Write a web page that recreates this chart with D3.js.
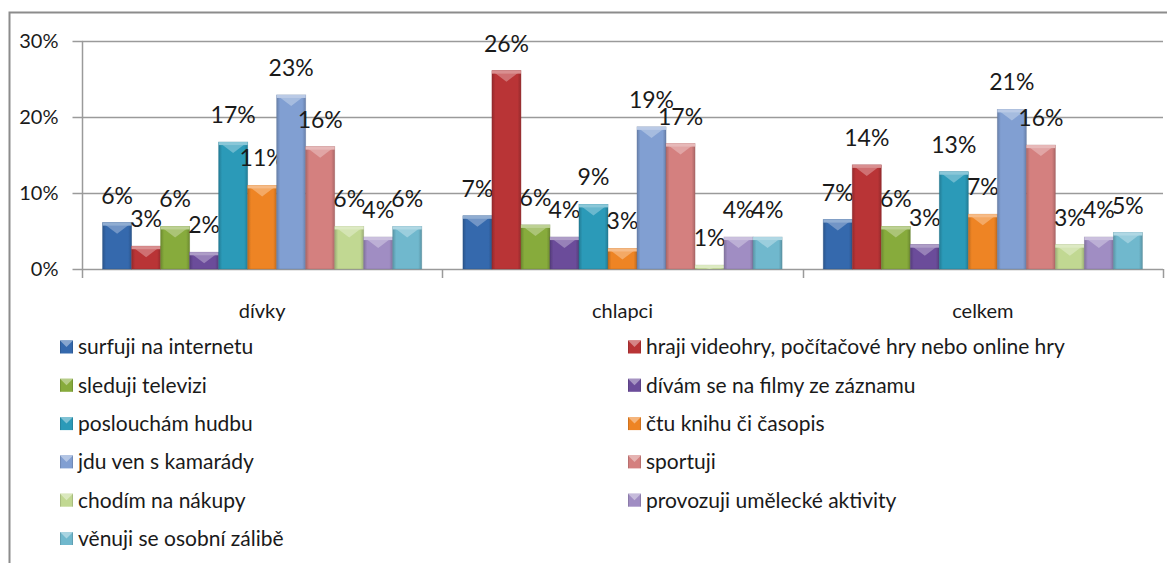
<!DOCTYPE html>
<html>
<head>
<meta charset="utf-8">
<script src="https://cdn.jsdelivr.net/npm/d3@7"></script>
<style>
  body { margin: 0; background: #fff; }
  text { font-family: Lato, "Open Sans", sans-serif; fill: #1a1a1a; }
</style>
</head>
<body>
<div id="chart"></div>
<script>
// data
var categories = ["dívky", "chlapci", "celkem"];
var series = [
  "surfuji na internetu",
  "hraji videohry, počítačové hry nebo online hry",
  "sleduji televizi",
  "dívám se na filmy ze záznamu",
  "poslouchám hudbu",
  "čtu knihu či časopis",
  "jdu ven s kamarády",
  "sportuji",
  "chodím na nákupy",
  "provozuji umělecké aktivity",
  "věnuji se osobní zálibě"
];
// one array per category, in series order (fractions)
var divky   = [0.061, 0.030, 0.056, 0.022, 0.167, 0.110, 0.229, 0.161, 0.056, 0.042, 0.056];
var chlapci = [0.070, 0.261, 0.058, 0.042, 0.085, 0.027, 0.187, 0.165, 0.005, 0.042, 0.042];
var celkem  = [0.065, 0.137, 0.056, 0.032, 0.128, 0.072, 0.210, 0.163, 0.032, 0.042, 0.048];
var yTicks = [0, 0.1, 0.2, 0.3];
var colors = ["#3569ad", "#b93436", "#87ab3c", "#6b4c9a", "#2b9ab8", "#ee8424",
              "#819fd2", "#d4807f", "#c1d892", "#a08dc3", "#70b8cd"];

var table = [divky, chlapci, celkem];

var width = 1167, height = 563;
var svg = d3.select("#chart").append("svg")
    .attr("width", width)
    .attr("height", height);

// outer frame (left and top edges)
svg.append("path")
    .attr("d", "M9.5,563 L9.5,12.5 L1167,12.5")
    .attr("fill", "none")
    .attr("stroke", "#8c8c8c")
    .attr("stroke-width", 2);

var x0 = d3.scaleBand().domain(categories).range([82, 1163]).padding(0);
var x1 = d3.scaleBand().domain(d3.range(series.length))
    .range([0, x0.bandwidth()]).paddingInner(0).paddingOuter(0.71);
var y = d3.scaleLinear().domain([0, 0.30]).range([269, 41]);

// gradients per series
var defs = svg.append("defs");
colors.forEach(function(c, i) {
  var g = defs.append("linearGradient").attr("id", "g" + i)
      .attr("x1", "0%").attr("x2", "100%").attr("y1", "0%").attr("y2", "0%");
  var base = d3.rgb(c);
  g.append("stop").attr("offset", "0%").attr("stop-color", base.darker(0.6));
  g.append("stop").attr("offset", "12%").attr("stop-color", base);
  g.append("stop").attr("offset", "88%").attr("stop-color", base);
  g.append("stop").attr("offset", "100%").attr("stop-color", base.darker(0.6));
});

// gridlines
svg.append("g").selectAll("line").data(yTicks).enter().append("line")
    .attr("x1", 82).attr("x2", 1163)
    .attr("y1", function(d) { return Math.round(y(d)) + 0.5; })
    .attr("y2", function(d) { return Math.round(y(d)) + 0.5; })
    .attr("stroke", "#9a9a9a").attr("stroke-width", 1.5);

// y axis
var yAxis = d3.axisLeft(y).tickValues(yTicks).tickFormat(d3.format(".0%"))
    .tickSize(10).tickPadding(14);
var ya = svg.append("g").attr("transform", "translate(82.5,0)").call(yAxis);
ya.select(".domain").attr("stroke", "#9a9a9a").attr("stroke-width", 1.5)
    .attr("d", "M0,41V269");
ya.selectAll(".tick line").attr("stroke", "#9a9a9a").attr("stroke-width", 1.5);
ya.selectAll(".tick text").style("font-size", "20px").attr("fill", "#1a1a1a");

// x axis
var xAxis = d3.axisBottom(x0).tickSize(0).tickPadding(34);
var xa = svg.append("g").attr("transform", "translate(0,269.5)").call(xAxis);
xa.select(".domain").remove();
xa.selectAll(".tick text").style("font-size", "20px").attr("fill", "#1a1a1a");
var bounds = [82, 82 + x0.step(), 82 + 2 * x0.step(), 1163];
svg.append("g").selectAll("line").data(bounds).enter().append("line")
    .attr("x1", function(d) { return Math.round(d) + 0.5; })
    .attr("x2", function(d) { return Math.round(d) + 0.5; })
    .attr("y1", 269).attr("y2", 278)
    .attr("stroke", "#9a9a9a").attr("stroke-width", 1.5);

// bars
var groups = svg.append("g").selectAll("g").data(table).enter().append("g")
    .attr("transform", function(d, i) { return "translate(" + x0(categories[i]) + ",0)"; });

var bars = groups.selectAll("g.bar").data(function(d) { return d; }).enter()
    .append("g").attr("class", "bar");

bars.append("rect")
    .attr("x", function(d, i) { return x1(i); })
    .attr("y", function(d) { return y(d); })
    .attr("width", x1.bandwidth())
    .attr("height", function(d) { return y(0) - y(d); })
    .attr("fill", function(d, i) { return "url(#g" + i + ")"; })
    .attr("stroke", function(d, i) { return d3.rgb(colors[i]).darker(0.8); })
    .attr("stroke-opacity", 0.5)
    .attr("stroke-width", 0.8);

// bevel on top
bars.append("path")
    .attr("d", function(d, i) {
      var x = x1(i), w = x1.bandwidth(), t = y(d), h = y(0) - y(d);
      var dv = Math.min(11, h);
      return "M" + x + "," + t + "L" + (x + w) + "," + t + "L" + (x + w / 2) + "," + (t + dv) + "Z";
    })
    .attr("fill", function(d, i) { return d3.interpolateRgb(colors[i], "#fff")(0.35); })
    .attr("opacity", 0.85);
bars.append("rect")
    .attr("x", function(d, i) { return x1(i); })
    .attr("y", function(d) { return y(d); })
    .attr("width", x1.bandwidth())
    .attr("height", function(d) { return Math.min(3, y(0) - y(d)); })
    .attr("fill", function(d, i) { return d3.interpolateRgb(colors[i], "#fff")(0.45); });

// data labels
bars.append("text")
    .attr("x", function(d, i) { return x1(i) + x1.bandwidth() / 2; })
    .attr("y", function(d) { return y(d) - 19; })
    .attr("text-anchor", "middle")
    .style("font-size", "23px")
    .text(function(d) { return d3.format(".0%")(d); });

// legend, two columns
var legend = svg.append("g").selectAll("g").data(series).enter().append("g")
    .attr("transform", function(d, i) {
      var col = i % 2, row = Math.floor(i / 2);
      return "translate(" + (col ? 628 : 60) + "," + (347 + row * 38.3) + ")";
    });
legend.append("rect")
    .attr("x", 0).attr("y", -6.5).attr("width", 13).attr("height", 13)
    .attr("fill", function(d, i) { return "url(#g" + i + ")"; });
legend.append("path")
    .attr("d", "M0,-6.5L13,-6.5L6.5,0Z")
    .attr("fill", function(d, i) { return d3.interpolateRgb(colors[i], "#fff")(0.4); });
legend.append("text")
    .attr("x", 18).attr("y", 0).attr("dy", "0.35em")
    .style("font-size", "21px")
    .text(function(d) { return d; });
</script>
</body>
</html>
